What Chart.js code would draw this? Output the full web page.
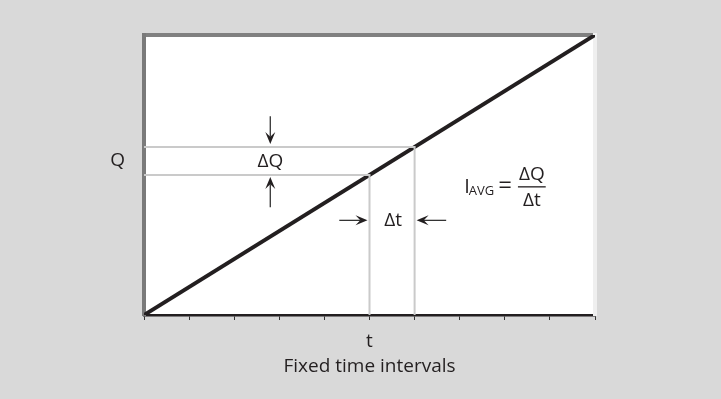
<!DOCTYPE html>
<html>
<head>
<meta charset="utf-8">
<script src="https://cdn.jsdelivr.net/npm/chart.js@4/dist/chart.umd.min.js"></script>
<style>
  html, body { margin: 0; padding: 0; background: #d9d9d9; }
  #wrap { width: 721px; height: 399px; }
</style>
</head>
<body>
<div id="wrap"><canvas id="chart" width="721" height="399"></canvas></div>
<script>
// charge grows linearly with time
const timeValues = [0, 10];
const chargeValues = [0, 10];
const timeTicks = [0, 1, 2, 3, 4, 5, 6, 7, 8, 9, 10];
const tValue = 5;
const dtValue = 1;
const qLabel = 'Q';
const tLabel = 't';
const xTitle = 'Fixed time intervals';

const FONT = '"Open Sans", Lato, sans-serif';
const INK = '#231f20';
const GUIDE = '#cacaca';

// ===================ANNOTATIONS===================
function arrow(ctx, x1, y1, x2, y2) {
  const ang = Math.atan2(y2 - y1, x2 - x1);
  const len = 12, half = 5;
  const cx = Math.cos(ang), sy = Math.sin(ang);
  ctx.strokeStyle = '#333';
  ctx.lineWidth = 1.3;
  ctx.beginPath();
  ctx.moveTo(x1, y1);
  ctx.lineTo(x2 - cx * len * 0.6, y2 - sy * len * 0.6);
  ctx.stroke();
  ctx.fillStyle = INK;
  ctx.beginPath();
  ctx.moveTo(x2, y2);
  ctx.lineTo(x2 - cx * len - sy * half, y2 - sy * len + cx * half);
  ctx.lineTo(x2 - cx * len * 0.6, y2 - sy * len * 0.6);
  ctx.lineTo(x2 - cx * len + sy * half, y2 - sy * len - cx * half);
  ctx.closePath();
  ctx.fill();
}

const annotate = {
  id: 'annotate',
  afterDatasetsDraw(chart) {
    const ctx = chart.ctx;
    const xs = chart.scales.x, ys = chart.scales.y;
    const q1 = ys.getPixelForValue(tValue);
    const q2 = ys.getPixelForValue(tValue + dtValue);
    const t1 = xs.getPixelForValue(tValue);
    const t2 = xs.getPixelForValue(tValue + dtValue);
    const qx = xs.getPixelForValue(2.8);
    const ty = ys.getPixelForValue(3.38);

    ctx.save();
    arrow(ctx, qx, ys.getPixelForValue(7.1), qx, q2 - 3);
    arrow(ctx, qx, ys.getPixelForValue(3.85), qx, q1 + 2);
    arrow(ctx, xs.getPixelForValue(4.33), ty, t1 - 2, ty);
    arrow(ctx, xs.getPixelForValue(6.7), ty, t2 + 2, ty);

    ctx.fillStyle = INK;
    ctx.textBaseline = 'middle';
    ctx.textAlign = 'center';
    ctx.font = '19px ' + FONT;
    ctx.fillText('\u0394Q', qx, (q1 + q2) / 2 + 1);
    ctx.fillText('\u0394t', (t1 + t2) / 2 + 1, ty);

    // I_AVG = ΔQ / Δt
    const fy = ys.getPixelForValue(4.6);
    let x = xs.getPixelForValue(7.1);
    ctx.textAlign = 'left';
    ctx.font = '20px ' + FONT;
    ctx.fillText('I', x, fy + 1);
    x += ctx.measureText('I').width - 1;
    ctx.font = '13px ' + FONT;
    ctx.fillText('AVG', x, fy + 5);
    x += ctx.measureText('AVG').width + 4;
    ctx.font = '24px ' + FONT;
    ctx.fillText('=', x, fy);
    x += ctx.measureText('=').width + 6;
    ctx.font = '19px ' + FONT;
    const w = ctx.measureText('\u0394Q').width + 2;
    ctx.textAlign = 'center';
    ctx.fillText('\u0394Q', x + w / 2, fy - 12);
    ctx.fillText('\u0394t', x + w / 2, fy + 14);
    ctx.fillRect(x, fy, w, 1.3);
    ctx.restore();
  }
};

const ctx = document.getElementById('chart').getContext('2d');
new Chart(ctx, {
  type: 'scatter',
  data: {
    datasets: [
      {
        data: [{x: tValue + dtValue, y: 0}, {x: tValue + dtValue, y: tValue + dtValue}, {x: 0, y: tValue + dtValue}],
        showLine: true, borderColor: GUIDE, borderWidth: 2, pointRadius: 0
      },
      {
        data: [{x: tValue, y: 0}, {x: tValue, y: tValue}, {x: 0, y: tValue}],
        showLine: true, borderColor: GUIDE, borderWidth: 2, pointRadius: 0
      },
      {
        data: timeValues.map((t, i) => ({x: t, y: chargeValues[i]})),
        showLine: true, borderColor: INK, borderWidth: 4, pointRadius: 0
      }
    ]
  },
  options: {
    responsive: false,
    animation: false,
    layout: { padding: { left: 0, right: 126, top: 35, bottom: 0 } },
    plugins: { legend: { display: false }, tooltip: { enabled: false } },
    scales: {
      x: {
        type: 'linear', min: 0, max: 10,
        afterBuildTicks: s => { s.ticks = timeTicks.map(v => ({value: v})); },
        afterFit: s => { s.height = 84; },
        grid: { drawOnChartArea: false, drawTicks: true, tickLength: 5, color: '#333', lineWidth: 1 },
        border: { color: INK, width: 2.5 },
        ticks: {
          padding: 10, color: INK, font: { family: FONT, size: 19 }, maxRotation: 0, autoSkip: false,
          callback: v => (v === tValue ? tLabel : '')
        },
        title: { display: true, text: xTitle, color: INK, font: { family: FONT, size: 19 }, padding: { top: 0, bottom: 21 } }
      },
      x2: {
        type: 'linear', position: 'top', min: 0, max: 10,
        afterFit: s => { s.height = 0; },
        grid: { display: false }, ticks: { display: false },
        border: { color: '#808080', width: 4 }
      },
      y: {
        type: 'linear', min: 0, max: 10,
        afterBuildTicks: s => { s.ticks = [{value: tValue + dtValue / 2}]; },
        afterFit: s => { s.width = 144; },
        grid: { display: false },
        border: { color: '#7a7a7a', width: 4 },
        ticks: { padding: 11, color: INK, font: { family: FONT, size: 19 }, callback: () => qLabel }
      },
      y2: {
        type: 'linear', position: 'right', min: 0, max: 10,
        afterFit: s => { s.width = 0; },
        grid: { display: false }, ticks: { display: false },
        border: { color: '#efefef', width: 4 }
      }
    }
  },
  plugins: [
    {
      id: 'plotBg',
      beforeDraw(chart) {
        const a = chart.chartArea, c = chart.ctx;
        c.save();
        c.fillStyle = '#d9d9d9';
        c.fillRect(0, 0, chart.width, chart.height);
        c.fillStyle = '#ffffff';
        c.fillRect(a.left, a.top, a.right - a.left, a.bottom - a.top);
        c.restore();
      }
    },
    annotate
  ]
});
</script>
</body>
</html>
